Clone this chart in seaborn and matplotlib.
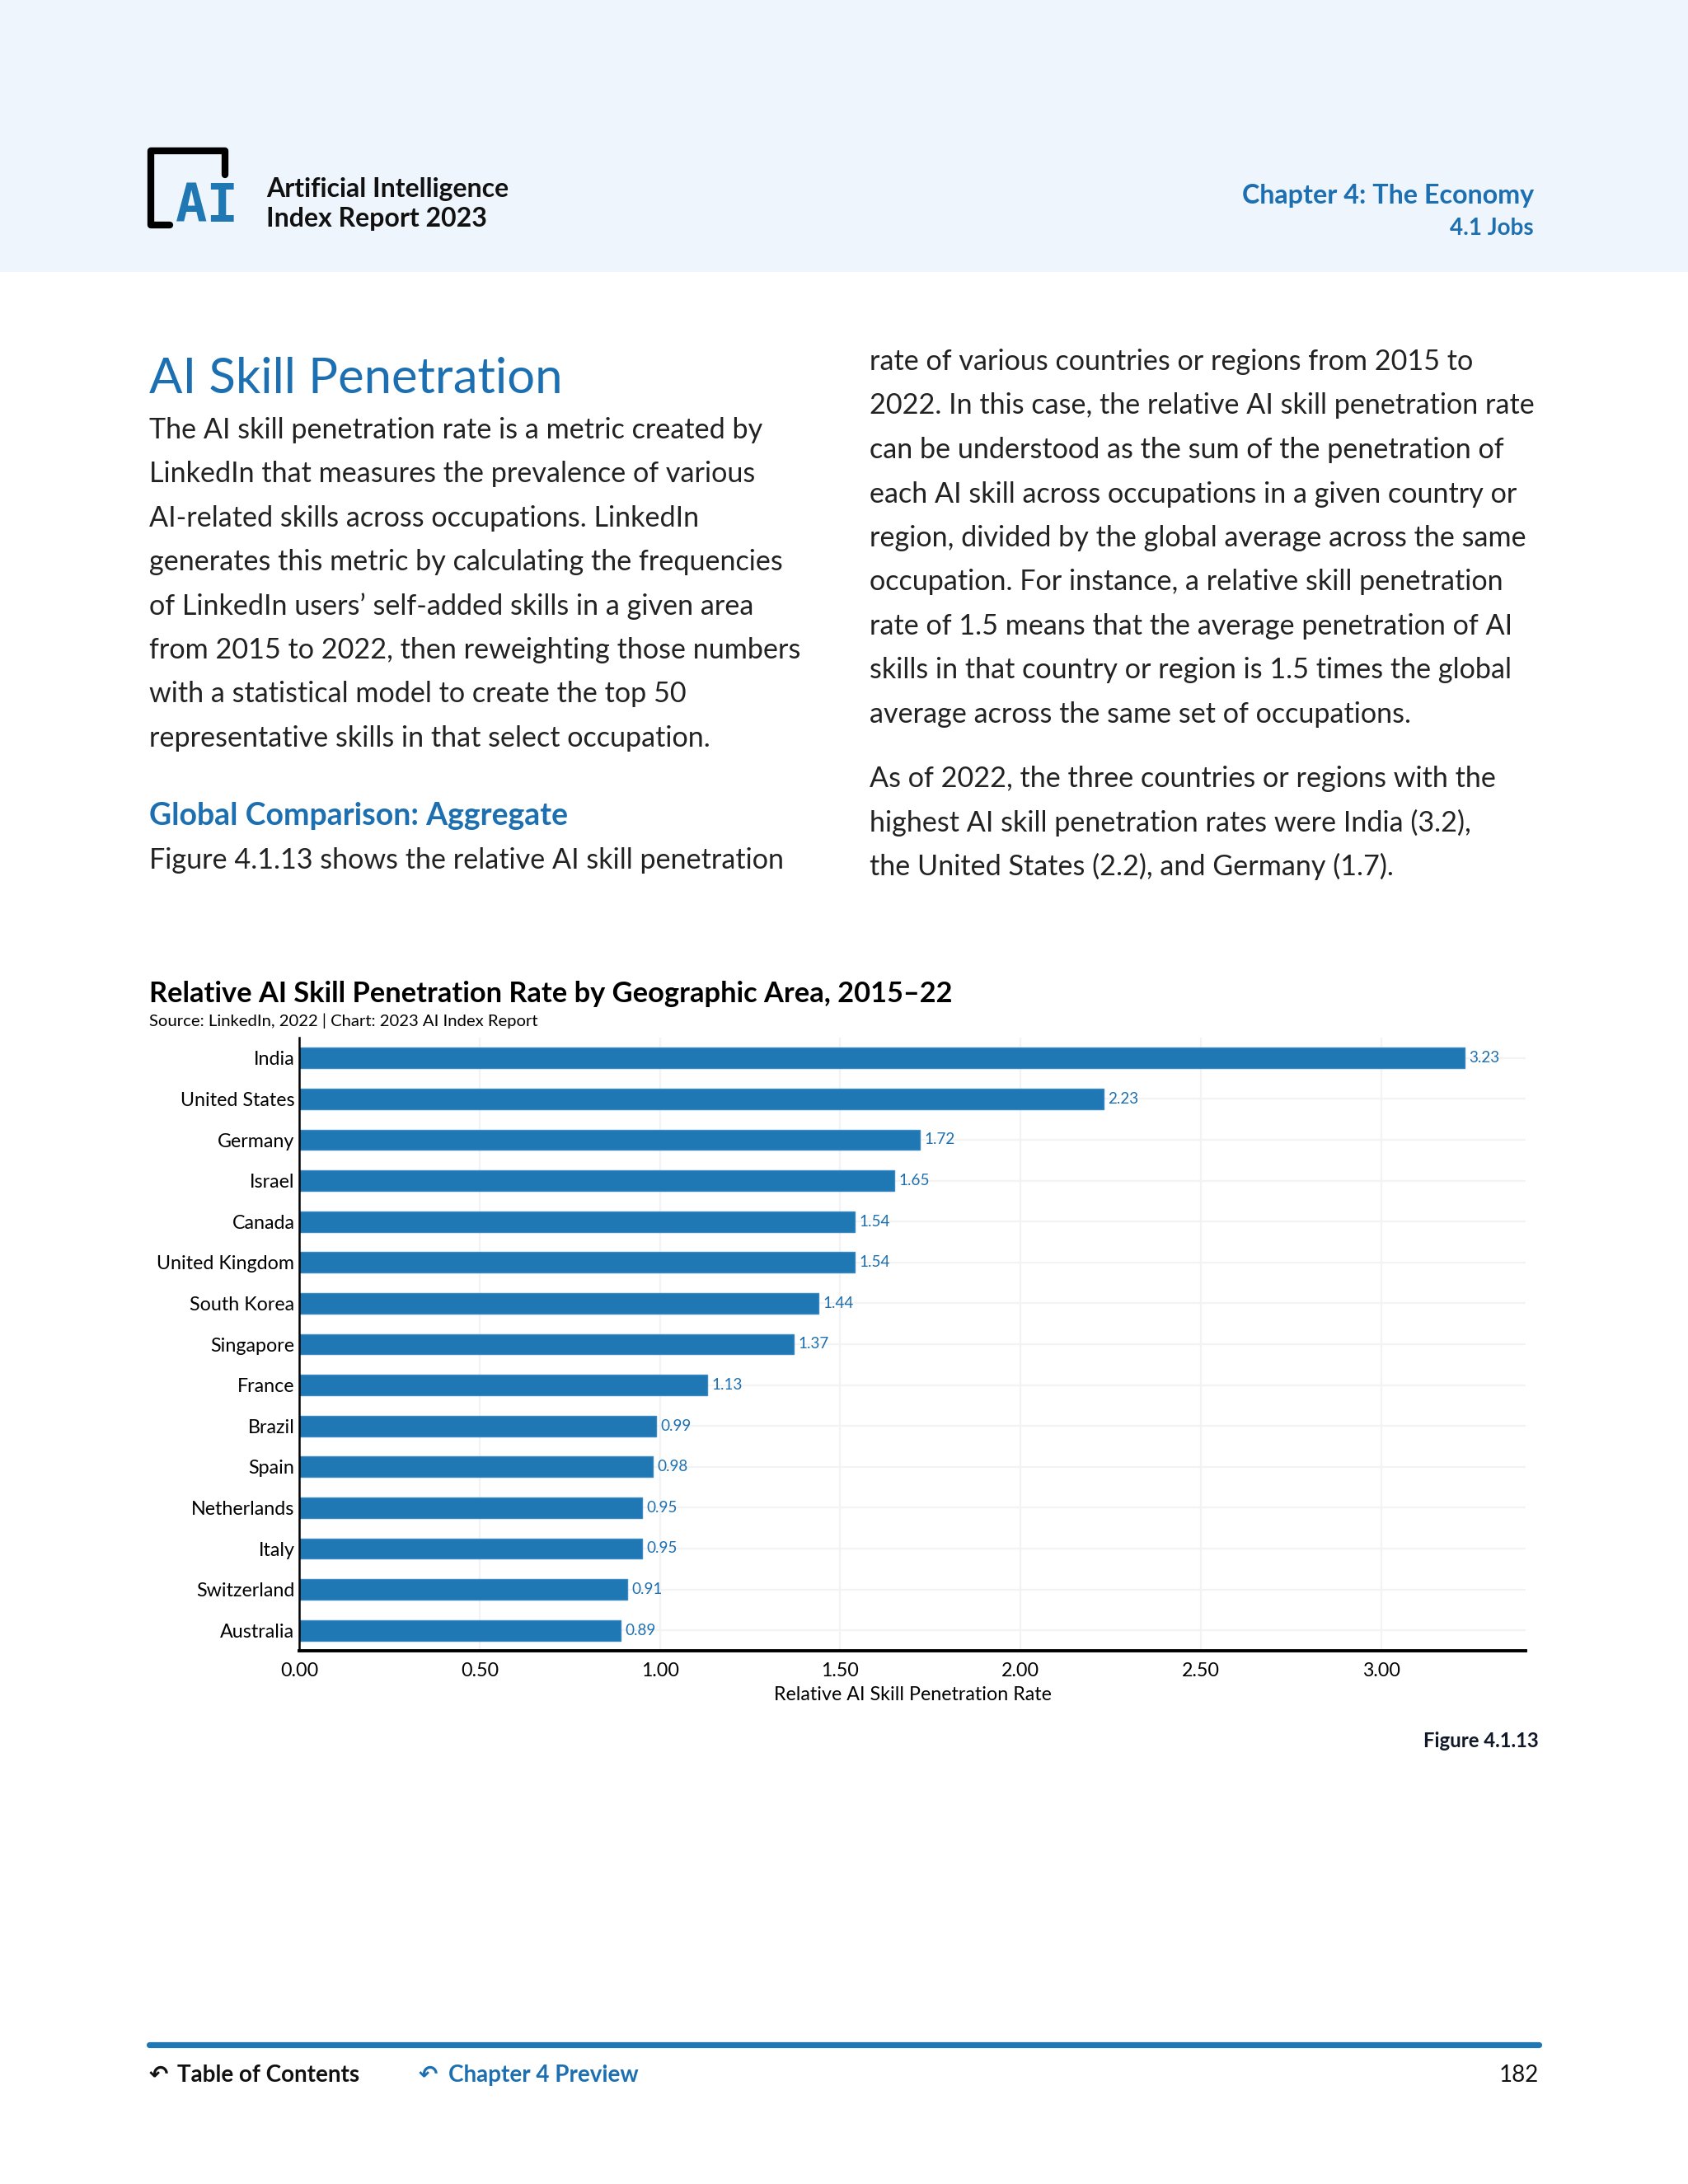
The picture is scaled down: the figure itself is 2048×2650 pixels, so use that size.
import matplotlib
matplotlib.use("Agg")
import matplotlib.pyplot as plt
import seaborn as sns
import pandas as pd
from matplotlib.patches import Rectangle
from matplotlib.lines import Line2D

countries = ["India", "United States", "Germany", "Israel", "Canada",
             "United Kingdom", "South Korea", "Singapore", "France", "Brazil",
             "Spain", "Netherlands", "Italy", "Switzerland", "Australia"]
rates = [3.23, 2.23, 1.72, 1.65, 1.54, 1.54, 1.44, 1.37, 1.13, 0.99,
         0.98, 0.95, 0.95, 0.91, 0.89]
xticks = [0, 0.5, 1.0, 1.5, 2.0, 2.5, 3.0]

left_col = [
    "The AI skill penetration rate is a metric created by",
    "LinkedIn that measures the prevalence of various",
    "AI-related skills across occupations. LinkedIn",
    "generates this metric by calculating the frequencies",
    "of LinkedIn users\u2019 self-added skills in a given area",
    "from 2015 to 2022, then reweighting those numbers",
    "with a statistical model to create the top 50",
    "representative skills in that select occupation.",
]
right_col = [
    "rate of various countries or regions from 2015 to",
    "2022. In this case, the relative AI skill penetration rate",
    "can be understood as the sum of the penetration of",
    "each AI skill across occupations in a given country or",
    "region, divided by the global average across the same",
    "occupation. For instance, a relative skill penetration",
    "rate of 1.5 means that the average penetration of AI",
    "skills in that country or region is 1.5 times the global",
    "average across the same set of occupations.",
]
right_col2 = [
    "As of 2022, the three countries or regions with the",
    "highest AI skill penetration rates were India (3.2),",
    "the United States (2.2), and Germany (1.7).",
]

BLUE = "#1F77B4"
TXTBLUE = "#1C6FB0"
W, H = 2048, 2650
BODY = 12.3

sns.set_theme(style="white")
plt.rcParams["font.family"] = ["Lato", "DejaVu Sans"]

fig = plt.figure(figsize=(W / 200, H / 200), dpi=200)


def P(x, y):
    return x / W, 1 - y / H


def txt(x, y, s, **kw):
    fx, fy = P(x, y)
    kw.setdefault("va", "center")
    kw.setdefault("color", "#111111")
    fig.text(fx, fy, s, **kw)


# header band
fig.patches.append(Rectangle((0, 1 - 330 / H), 1, 330 / H, transform=fig.transFigure,
                             facecolor="#EEF5FC", edgecolor="none", zorder=0))

# logo bracket
bx = [206, 183, 183, 273, 273]
by = [273, 273, 183, 183, 212]
fig.lines.append(Line2D([x / W for x in bx], [1 - y / H for y in by], transform=fig.transFigure,
                        color="black", linewidth=3.0, solid_joinstyle="round",
                        solid_capstyle="round"))
txt(251, 251, "AI", fontsize=23, fontweight="bold", color=BLUE,
    family="DejaVu Sans Mono", ha="center")
txt(323, 230, "Artificial Intelligence", fontsize=11.5, fontweight="bold")
txt(323, 266, "Index Report 2023", fontsize=11.5, fontweight="bold")
txt(1861, 238, "Chapter 4: The Economy", fontsize=11.6, fontweight="bold",
    color=TXTBLUE, ha="right")
txt(1861, 277, "4.1 Jobs", fontsize=10, fontweight="bold", color=TXTBLUE, ha="right")

# body text
txt(181, 460, "AI Skill Penetration", fontsize=21.5, color=TXTBLUE)
for i, line in enumerate(left_col):
    txt(181, 522 + i * 53.4, line, fontsize=BODY, color="#222222")
txt(181, 990, "Global Comparison: Aggregate", fontsize=13.5, fontweight="bold", color=TXTBLUE)
txt(181, 1044, "Figure 4.1.13 shows the relative AI skill penetration", fontsize=BODY,
    color="#222222")
for i, line in enumerate(right_col):
    txt(1055, 439 + i * 53.5, line, fontsize=BODY, color="#222222")
for i, line in enumerate(right_col2):
    txt(1055, 945 + i * 53, line, fontsize=BODY, color="#222222")

# chart
txt(181, 1206, "Relative AI Skill Penetration Rate by Geographic Area, 2015\u201322",
    fontsize=12.4, fontweight="bold", color="black")
txt(181, 1239, "Source: LinkedIn, 2022 | Chart: 2023 AI Index Report", fontsize=7.3,
    color="black")

ax = fig.add_axes([363 / W, 1 - 2003 / H, (1851 - 363) / W, (2003 - 1259) / H])
df = pd.DataFrame({"country": countries, "rate": rates})
sns.barplot(data=df, x="rate", y="country", orient="h", color=BLUE, saturation=1,
            width=0.5, ax=ax, zorder=3, edgecolor="#3C8AC4", linewidth=0.5)
for c in ax.containers:
    ax.bar_label(c, fmt="%.2f", padding=2, fontsize=6.8, color=TXTBLUE)
ax.set_xlim(0, 3.4)
ax.set_ylim(len(countries) - 0.5, -0.5)
ax.set_xticks(xticks)
ax.set_xticklabels([f"{v:.2f}" for v in xticks])
ax.set_xlabel("Relative AI Skill Penetration Rate", fontsize=8.4, color="black", labelpad=3)
ax.set_ylabel("")
ax.tick_params(axis="x", length=0, labelsize=8.4, colors="black", pad=5)
ax.tick_params(axis="y", length=0, labelsize=8.4, colors="black", pad=2)
ax.grid(True, axis="both", color="#F3F3F3", linewidth=0.8, zorder=0)
ax.set_axisbelow(True)
for s in ["top", "right"]:
    ax.spines[s].set_visible(False)
ax.spines["left"].set_color("black")
ax.spines["left"].set_linewidth(0.9)
ax.spines["left"].set_zorder(5)
ax.spines["bottom"].set_color("black")
ax.spines["bottom"].set_linewidth(1.4)
ax.spines["bottom"].set_zorder(5)

txt(1867, 2113, "Figure 4.1.13", fontsize=8.6, fontweight="bold", color="#111827", ha="right")

# footer
fig.lines.append(Line2D([181 / W, 1867 / W], [1 - 2481 / H] * 2, transform=fig.transFigure,
                        color=BLUE, linewidth=2.6, solid_capstyle="round"))
txt(181, 2518, "\u21b6", fontsize=10, fontweight="bold", family="DejaVu Sans")
txt(215, 2518, "Table of Contents", fontsize=10, fontweight="bold")
txt(508, 2518, "\u21b6", fontsize=10, fontweight="bold", color=TXTBLUE, family="DejaVu Sans")
txt(544, 2518, "Chapter 4 Preview", fontsize=10, fontweight="bold", color=TXTBLUE)
txt(1867, 2518, "182", fontsize=10, ha="right")

fig.savefig("out.png", dpi=200, facecolor="white")
